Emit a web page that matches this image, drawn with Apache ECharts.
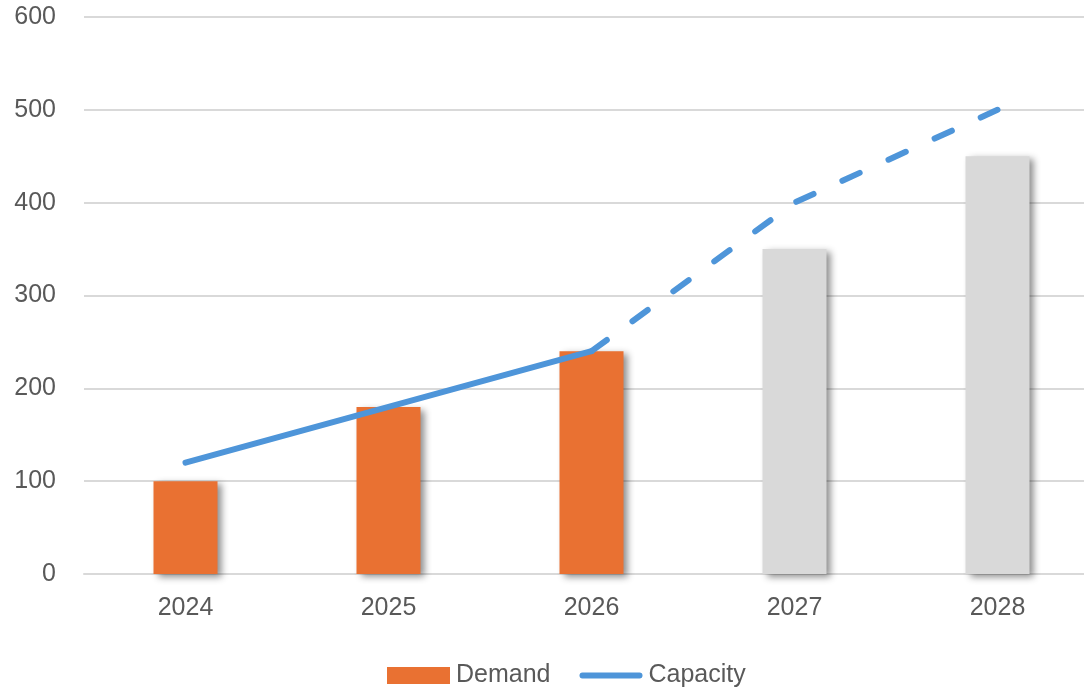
<!DOCTYPE html>
<html><head><meta charset="utf-8">
<script src="https://cdn.jsdelivr.net/npm/echarts@6/dist/echarts.min.js"></script>
<style>html,body{margin:0;padding:0;background:#fff}#c{width:1084px;height:687px}</style>
</head><body><div id="c"></div>
<script>
const categories = ['2024','2025','2026','2027','2028'];
const demand = [100, 180, 240, 350, 450];
const demandActual = [true, true, true, false, false];
const capacityActual = [120, 180, 240, null, null];
const capacityForecast = [null, null, 240, 400, 500];
const yTicks = [0, 100, 200, 300, 400, 500, 600];

const ORANGE = '#e97132', GRAY = '#d9d9d9', BLUE = '#4e95d9', TXT = '#595959';
const font = 'Liberation Sans, Arial, sans-serif';
const chart = echarts.init(document.getElementById('c'));
chart.setOption({
  animation: false,
  grid: {left: 84, width: 1015, top: 17, bottom: 113, containLabel: false, outerBoundsMode: 'none'},
  legend: {
    top: 658, left: 382, itemGap: 29, itemWidth: 63, itemHeight: 17,
    textStyle: {color: TXT, fontSize: 25, fontFamily: font, padding: [0,0,0,1]},
    data: [
      {name: 'Demand', icon: 'rect'},
      {name: 'Capacity', icon: 'path://M0,0 M64,17 M3,5.5 L61,5.5 A3,3 0 0 1 61,11.5 L3,11.5 A3,3 0 0 1 3,5.5 Z', itemStyle: {color: BLUE}}
    ]
  },
  xAxis: {
    type: 'category', data: categories,
    axisLine: {lineStyle: {color: GRAY, width: 2}},
    axisTick: {show: false},
    axisLabel: {color: TXT, fontSize: 25, fontFamily: font, margin: 22}
  },
  yAxis: {
    type: 'value', min: yTicks[0], max: yTicks[yTicks.length-1], interval: 100,
    axisLine: {show: false}, axisTick: {show: false},
    splitLine: {lineStyle: {color: GRAY, width: 2}},
    axisLabel: {color: TXT, fontSize: 25, fontFamily: font, margin: 28}
  },
  series: [
    {
      name: 'Demand', type: 'bar', barWidth: 64, z: 2,
      itemStyle: {color: ORANGE},
      data: demand.map((v, i) => ({value: v, itemStyle: {
        color: demandActual[i] ? ORANGE : GRAY,
        shadowColor: 'rgba(0,0,0,0.45)', shadowBlur: 7, shadowOffsetX: 4, shadowOffsetY: 3
      }}))
    },
    {
      name: 'Capacity', type: 'line', data: capacityActual, symbol: 'none', z: 3,
      lineStyle: {color: BLUE, width: 6, cap: 'round', join: 'round'},
      itemStyle: {color: BLUE}
    },
    {
      name: 'Capacity', type: 'line', data: capacityForecast, symbol: 'none', z: 3,
      lineStyle: {color: BLUE, width: 6, type: [19, 31.7], cap: 'round', join: 'round', dashOffset: 0},
      itemStyle: {color: BLUE}
    }
  ]
});
</script></body></html>
